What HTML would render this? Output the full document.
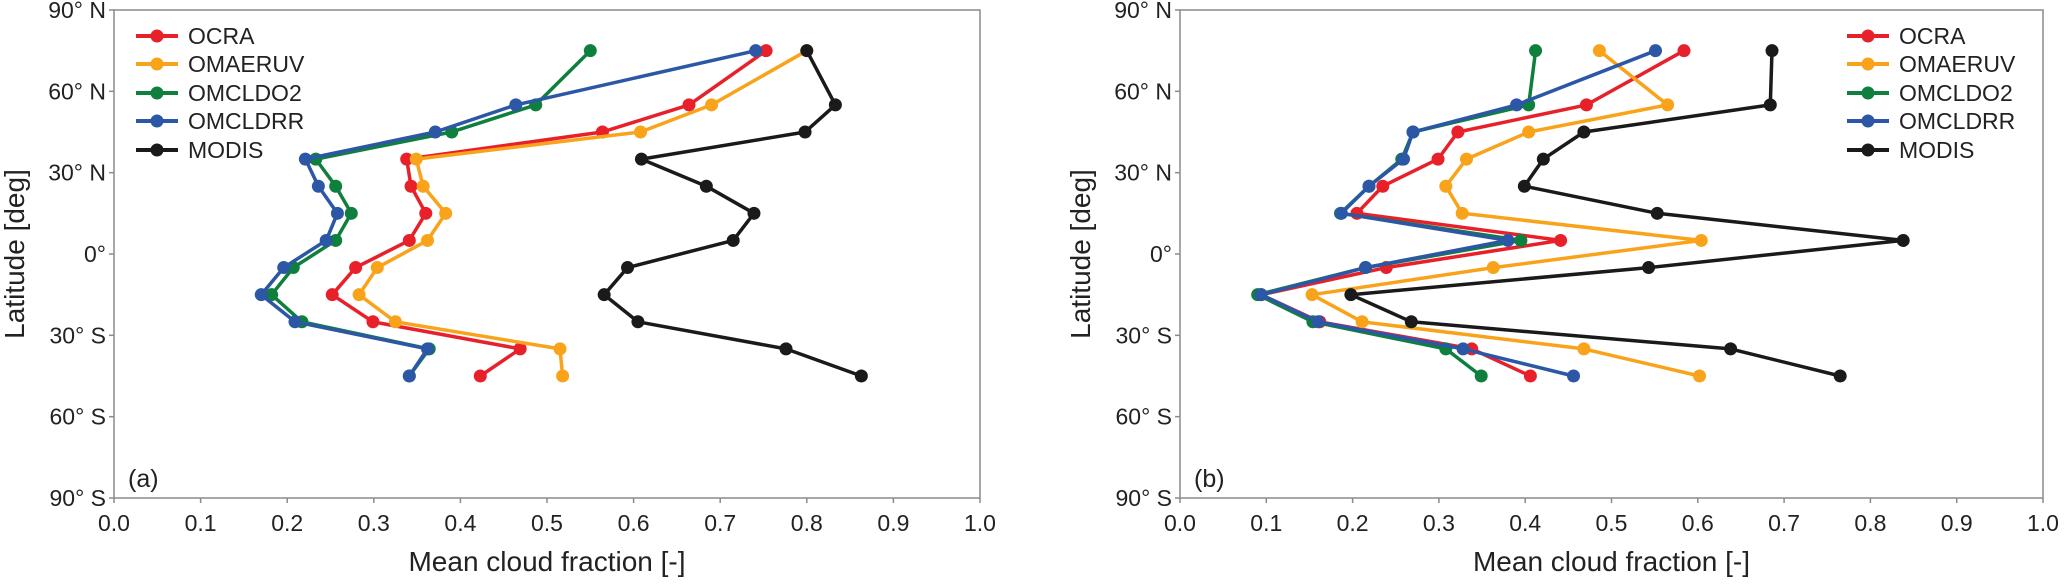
<!DOCTYPE html>
<html><head><meta charset="utf-8"><style>
html,body{margin:0;padding:0;background:#fff;}
svg{display:block;font-family:"Liberation Sans",Arial,sans-serif;}
</style></head><body>
<svg id="chart" width="2067" height="585" viewBox="0 0 2067 585" xmlns="http://www.w3.org/2000/svg"></svg>
<script>
const lats = [75,55,45,35,25,15,5,-5,-15,-25,-35,-45];
const seriesNames = ["OCRA","OMAERUV","OMCLDO2","OMCLDRR","MODIS"];
const xTicks = [0,0.1,0.2,0.3,0.4,0.5,0.6,0.7,0.8,0.9,1.0];
const yTicks = [90,60,30,0,-30,-60,-90];
const yTickLabels = ["90° N","60° N","30° N","0°","30° S","60° S","90° S"];
// Panel (a)
const aOCRA    = [0.753,0.664,0.564,0.338,0.343,0.360,0.341,0.279,0.252,0.299,0.469,0.423];
const aOMAERUV = [0.800,0.690,0.608,0.349,0.357,0.383,0.362,0.304,0.283,0.325,0.515,0.518];
const aOMCLDO2 = [0.550,0.487,0.390,0.233,0.256,0.274,0.256,0.207,0.182,0.217,0.364,0.341];
const aOMCLDRR = [0.741,0.464,0.371,0.221,0.236,0.258,0.245,0.196,0.170,0.209,0.362,0.341];
const aMODIS   = [0.800,0.833,0.798,0.609,0.684,0.739,0.715,0.593,0.566,0.605,0.776,0.863];
// Panel (b)
const bOCRA    = [0.584,0.471,0.322,0.299,0.235,0.205,0.441,0.239,0.094,0.162,0.338,0.406];
const bOMAERUV = [0.486,0.565,0.404,0.332,0.308,0.327,0.604,0.363,0.153,0.211,0.468,0.602];
const bOMCLDO2 = [0.412,0.404,0.270,0.257,0.219,0.186,0.395,0.215,0.090,0.154,0.308,0.349];
const bOMCLDRR = [0.551,0.390,0.270,0.259,0.219,0.187,0.380,0.215,0.094,0.160,0.328,0.456];
const bMODIS   = [0.686,0.684,0.468,0.421,0.399,0.553,0.838,0.543,0.198,0.268,0.638,0.765];

const colors = ["#e8202a","#f9a31b","#0f7f3d","#2b57a6","#1a1a1a"];
const NS = "http://www.w3.org/2000/svg";
const svg = document.getElementById("chart");
function mk(tag, attrs, parent){
  const e = document.createElementNS(NS, tag);
  for (const k in attrs) e.setAttribute(k, attrs[k]);
  (parent||svg).appendChild(e);
  return e;
}
const yTop = 10, yBot = 498;
function yScale(lat){ return yTop + (90 - lat) / 180 * (yBot - yTop); }

function panel(x0, x1, data, tag, label, legX){
  const xs = v => x0 + v * (x1 - x0);
  const g = mk("g", {});
  
  
  const frame = mk("rect", {x:x0, y:yTop, width:x1-x0, height:yBot-yTop, fill:"none", stroke:"#8a8a8a", "stroke-width":1.5}, g);
  
  
  xTicks.forEach(t => {
    const x = xs(t);
    mk("line", {x1:x, y1:yBot, x2:x, y2:yBot+5, stroke:"#8a8a8a", "stroke-width":1.5}, g);
    const tx = mk("text", {x:x, y:531, "font-size":23, "text-anchor":"middle", fill:"#222"}, g);
    tx.textContent = t.toFixed(1);
    
    
  });
  yTicks.forEach((t, i) => {
    const y = yScale(t);
    mk("line", {x1:x0-5, y1:y, x2:x0, y2:y, stroke:"#8a8a8a", "stroke-width":1.5}, g);
    const tx = mk("text", {x:x0-8, y:y+8, "font-size":23, "text-anchor":"end", fill:"#222"}, g);
    tx.textContent = yTickLabels[i];
    
    
  });
  const xt = mk("text", {x:(x0+x1)/2, y:571, "font-size":28, "text-anchor":"middle", fill:"#222"}, g);
  xt.textContent = "Mean cloud fraction [-]";
  
  
  const yx = x0 - 90;
  const yt = mk("text", {x:yx, y:(yTop+yBot)/2, "font-size":28, "text-anchor":"middle", fill:"#222", transform:"rotate(-90 "+yx+" "+((yTop+yBot)/2)+")"}, g);
  yt.textContent = "Latitude [deg]";
  
  
  const pl = mk("text", {x:x0+14, y:487, "font-size":25, fill:"#222"}, g);
  pl.textContent = label;
  
  
  data.forEach((vals, si) => {
    const pts = vals.map((v, i) => xs(v).toFixed(1) + "," + yScale(lats[i]).toFixed(1)).join(" ");
    const line = mk("polyline", {points:pts, fill:"none", stroke:colors[si], "stroke-width":3.5, "stroke-linejoin":"round"}, g);
    
    
    vals.forEach((v, i) => {
      const c = mk("circle", {cx:xs(v), cy:yScale(lats[i]), r:6.5, fill:colors[si]}, g);
      
      
    });
  });
  const legendYs = [36,64,93,121,150];
  seriesNames.forEach((n, si) => {
    const y = legendYs[si];
    const lg = mk("g", {}, g);
    
    
    mk("line", {x1:legX, y1:y, x2:legX+42, y2:y, stroke:colors[si], "stroke-width":4}, lg);
    mk("circle", {cx:legX+21, cy:y, r:6.5, fill:colors[si]}, lg);
    const t = mk("text", {x:legX+52, y:y+8, "font-size":23, fill:"#222"}, lg);
    t.textContent = n;
  });
}
panel(114, 980, [aOCRA,aOMAERUV,aOMCLDO2,aOMCLDRR,aMODIS], "a", "(a)", 136);
panel(1180, 2043, [bOCRA,bOMAERUV,bOMCLDO2,bOMCLDRR,bMODIS], "b", "(b)", 1847);
</script>
</body></html>
